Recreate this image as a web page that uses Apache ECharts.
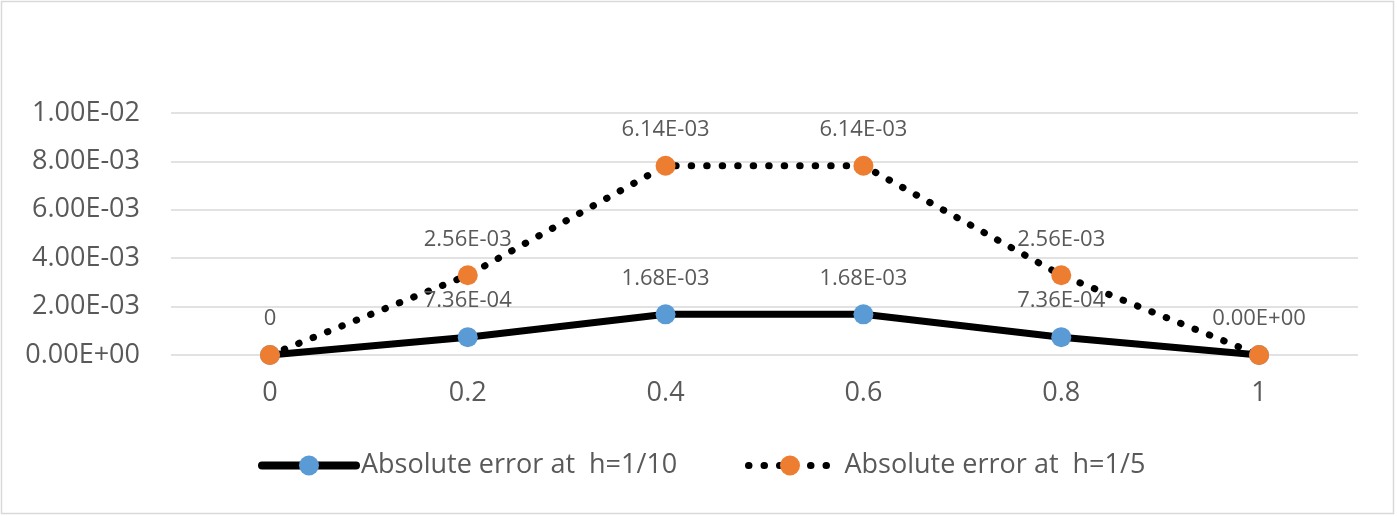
<!DOCTYPE html>
<html>
<head>
<meta charset="utf-8">
<script src="https://cdn.jsdelivr.net/npm/echarts@6/dist/echarts.min.js"></script>
<style>html,body{margin:0;padding:0;background:#fff}#c{width:1397px;height:516px}</style>
</head>
<body>
<div id="c"></div>
<script>
const categories = ['0', '0.2', '0.4', '0.6', '0.8', '1'];
const seriesNames = ['Absolute error at  h=1/10', 'Absolute error at  h=1/5'];
const errH10 = [0, 7.36e-4, 1.68e-3, 1.68e-3, 7.36e-4, 0];
const errH5 = [0, 2.56e-3, 6.14e-3, 6.14e-3, 2.56e-3, 0];
const labelsH10 = ['', '7.36E-04', '1.68E-03', '1.68E-03', '7.36E-04', ''];
const labelsH5 = ['0', '2.56E-03', '6.14E-03', '6.14E-03', '2.56E-03', '0.00E+00'];
const yMin = 0, yMax = 0.01, yInterval = 0.002;

function sci(v) {
  if (Math.abs(v) < 1e-12) return '0.00E+00';
  const s = v.toExponential(2).toUpperCase();
  const parts = s.split('E');
  const sign = parts[1][0] === '-' ? '-' : '+';
  let d = parts[1].replace(/[+-]/, '');
  if (d.length < 2) d = '0' + d;
  return parts[0] + 'E' + sign + d;
}

const FONT = 'Open Sans';
const GREY = '#595959';
const chart = echarts.init(document.getElementById('c'));
chart.setOption({
  animation: false,
  backgroundColor: '#fff',
  graphic: [{
    type: 'rect', shape: {x: 1.5, y: 1.5, width: 1392, height: 512},
    style: {fill: 'none', stroke: '#d9d9d9', lineWidth: 1.5}, z: -10
  }],
  grid: {left: 171, right: 39, top: 113, bottom: 161},
  xAxis: {
    type: 'category', data: categories, boundaryGap: true,
    axisLine: {show: false}, axisTick: {show: false},
    axisLabel: {color: GREY, fontFamily: FONT, fontSize: 27, margin: 25}
  },
  yAxis: {
    type: 'value', min: yMin, max: yMax, interval: yInterval,
    axisLine: {show: false}, axisTick: {show: false},
    splitLine: {lineStyle: {color: '#d9d9d9', width: 1.5}},
    axisLabel: {color: GREY, fontFamily: FONT, fontSize: 27, margin: 31, formatter: sci}
  },
  legend: [{
    data: [seriesNames[0]], left: 258, top: 452, padding: 0, itemWidth: 94, itemHeight: 25,
    lineStyle: {width: 8},
    textStyle: {color: GREY, fontFamily: FONT, fontSize: 27, padding: [0, 0, 0, 0]}
  }, {
    data: [seriesNames[1]], left: 745, top: 452, padding: 0, itemWidth: 83, itemHeight: 25,
    lineStyle: {width: 7},
    textStyle: {color: GREY, fontFamily: FONT, fontSize: 27, padding: [0, 0, 0, 8]}
  }],
  series: [{
    name: seriesNames[0], type: 'line', stack: 'total', data: errH10,
    symbol: 'circle', symbolSize: 20,
    itemStyle: {color: '#5B9BD5'},
    lineStyle: {color: '#000', width: 7, cap: 'round', join: 'round'},
    label: {show: true, position: 'top', distance: 15, color: GREY, fontFamily: FONT, fontSize: 22,
      formatter: p => labelsH10[p.dataIndex]}
  }, {
    name: seriesNames[1], type: 'line', stack: 'total', data: errH5,
    symbol: 'circle', symbolSize: 20,
    itemStyle: {color: '#ED7D31'},
    lineStyle: {color: '#000', width: 7, type: [0.5, 15], cap: 'round'},
    label: {show: true, position: 'top', distance: 15, color: GREY, fontFamily: FONT, fontSize: 22,
      formatter: p => labelsH5[p.dataIndex]}
  }]
});
</script>
</body>
</html>
